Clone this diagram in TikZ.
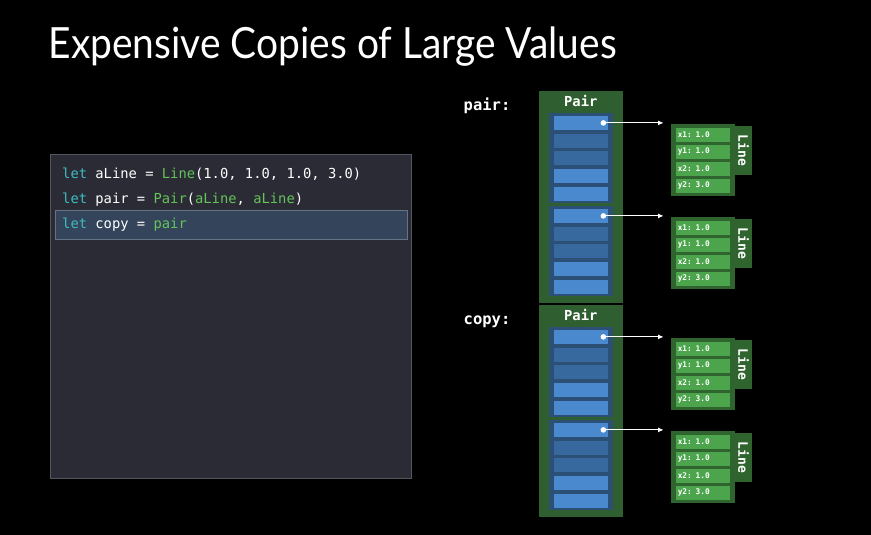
\documentclass[tikz,border=0pt]{standalone}
\usepackage{fontspec}
\setmainfont{Lato}
\setmonofont{DejaVu Sans Mono}
\newfontfamily\titlefont[FakeStretch=0.905]{Lato}
\usepackage{xcolor}
\usetikzlibrary{positioning,arrows.meta}
\definecolor{pairgreen}{HTML}{2F5E30}
\definecolor{groupblue}{HTML}{2C4F76}
\definecolor{cellhi}{HTML}{4A89CE}
\definecolor{celllo}{HTML}{38699E}
\definecolor{linegreen}{HTML}{2F642F}
\definecolor{fieldgreen}{HTML}{4CA54C}
\definecolor{codebg}{HTML}{2A2B35}
\definecolor{codehl}{HTML}{33445B}
\definecolor{kwteal}{HTML}{3DBDC0}
\definecolor{idgreen}{HTML}{64C35A}
\newcommand{\kw}[1]{\textcolor{kwteal}{#1}}
\newcommand{\ty}[1]{\textcolor{idgreen}{#1}}

\begin{document}
\begin{tikzpicture}[
        x=1pt, y=-1pt,
        inner sep=0pt,
        pairbox/.style={fill=pairgreen, minimum width=83.5pt, minimum height=212pt, anchor=north west},
        groupbox/.style={fill=groupblue, minimum width=64.4pt, minimum height=90pt, anchor=north west},
        cell/.style={minimum width=54.4pt, minimum height=14pt, anchor=north west},
        linebox/.style={fill=linegreen, minimum width=63.5pt, minimum height=72.4pt, anchor=north west},
        linetab/.style={fill=linegreen, minimum width=16.8pt, minimum height=48.3pt, text=white,
            font=\fontsize{13}{13}\ttfamily\bfseries},
        field/.style={fill=fieldgreen, minimum width=54.3pt, minimum height=14pt, anchor=north west,
            text=white, align=left, text width=53pt, font=\fontsize{7.8}{8}\ttfamily\bfseries},
        codeline/.style={anchor=base west, text=white, font=\fontsize{13.8}{14}\ttfamily},
        label/.style={text=white, anchor=base west, font=\fontsize{15.5}{16}\ttfamily\bfseries},
        ptr/.style={white, line width=0.9pt, {Circle[length=5.5pt]}-{Latex[length=5.5pt,width=5pt]}, shorten >=7.5pt}]
        % BACKGROUND
        \fill[black] (0,0) rectangle (871,535);
        \useasboundingbox (0,0) rectangle (871,535);
        % title
        \node[anchor=base west, text=white, font=\fontsize{43}{43}\titlefont] (title) at (48.5,58.5) {Expensive Copies of Large Values};
        % CODE PANEL
        \node[fill=codebg, draw=codebg!80!white, anchor=north west, minimum width=361pt, minimum height=323.5pt] (code) at (50,154) {};
        \node[fill=codehl, draw=codehl!75!white, anchor=north west, minimum width=352pt, minimum height=29pt] (hl) at (54.5,209.5) {};
        \node[codeline] (l1) at (62,178.3) {\kw{let} aLine = \ty{Line}(1.0, 1.0, 1.0, 3.0)};
        \node[codeline] (l2) at (62,203.5) {\kw{let} pair = \ty{Pair}(\ty{aLine}, \ty{aLine})};
        \node[codeline] (l3) at (62,228.8) {\kw{let} copy = \ty{pair}};
        % VALUES
        \foreach \p/\name/\oy in {p/pair/0, c/copy/214} {
            \node[label] (\p-lab) at (463.5,110.7+\oy) {\name:};
            \node[pairbox] (\p) at (539,91+\oy) {};
            \node[text=white, font=\fontsize{13.8}{14}\ttfamily\bfseries, anchor=base] (\p-title) at (580.75,106.3+\oy) {Pair};
            \foreach \g/\gy in {1/0, 2/93} {
                % stored Line
                \node[groupbox] (\p-g\g) at (548.3,113+\oy+\gy) {};
                \foreach \k/\col in {1/cellhi, 2/celllo, 3/celllo, 4/cellhi, 5/cellhi}
                    \node[cell, fill=\col] (\p-\g-\k) at (553.3,{115.7+\oy+\gy+(\k-1)*17.65}) {};
                % Line value
                \node[linebox] (\p-L\g) at (671,123.3+\oy+\gy) {};
                \node[linetab, below right=2.7pt and 0pt of \p-L\g.north east, anchor=north west] (\p-T\g)
                    {\rotatebox{-90}{Line}};
                \foreach \k/\txt in {1/x1: 1.0, 2/y1: 1.0, 3/x2: 1.0, 4/y2: 3.0}
                    \node[field] (\p-L\g-\k) at (675.7,{127.3+\oy+\gy+(\k-1)*17}) {\hspace{1.2pt}\txt};
                % ARROWS
                \draw[ptr] ([xshift=-7.5pt]\p-\g-1.east) -- (\p-\g-1.east -| \p-L\g.west);
            }
        }
    \end{tikzpicture}
\end{document}
